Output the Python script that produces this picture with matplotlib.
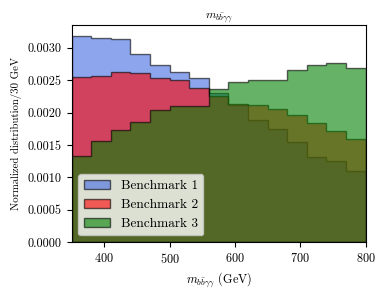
import numpy as np
import matplotlib
matplotlib.use("Agg")
import matplotlib.pyplot as plt
from matplotlib.ticker import FormatStrFormatter

plt.rcParams['font.family'] = 'serif'
plt.rcParams['font.serif'] = ['cmr10']
plt.rcParams['mathtext.fontset'] = 'cm'
plt.rcParams['axes.formatter.use_mathtext'] = True

# 30 GeV bins from 350 to 800 GeV
edges = np.arange(350, 801, 30)

bench1 = [0.00318, 0.00316, 0.00314, 0.00291, 0.00273, 0.00263, 0.00254, 0.00230,
          0.00212, 0.00189, 0.00174, 0.00154, 0.00132, 0.00125, 0.00109]
bench2 = [0.00255, 0.00257, 0.00263, 0.00261, 0.00253, 0.00251, 0.00238, 0.00225,
          0.00214, 0.00212, 0.00206, 0.00196, 0.00184, 0.00172, 0.00159]
bench3 = [0.00133, 0.00156, 0.00173, 0.00185, 0.00204, 0.00211, 0.00211, 0.00237,
          0.00248, 0.00250, 0.00250, 0.00266, 0.00273, 0.00277, 0.00269]

labels = ["Benchmark 1", "Benchmark 2", "Benchmark 3"]
colors = ["royalblue", "red", "green"]

fig = plt.figure(figsize=(3.9, 2.93), dpi=100)
ax = fig.add_axes([0.1836, 0.174, 0.7541, 0.7397])

centers = edges[:-1] + 15
for vals, lab, col in zip([bench1, bench2, bench3], labels, colors):
    ax.hist(centers, bins=edges, weights=vals, histtype='stepfilled',
            alpha=0.6, facecolor=col, edgecolor='k', linewidth=1, label=lab)

ax.set_xlim(350, 800)
ax.set_ylim(0, 0.00335)
ax.set_xticks([400, 500, 600, 700, 800])
ax.set_yticks(np.arange(0, 0.00301, 0.0005))
ax.yaxis.set_major_formatter(FormatStrFormatter('%.4f'))
ax.tick_params(labelsize=8.8)

ax.set_title(r"$m_{b\bar{b}\gamma\gamma}$", fontsize=8.5, pad=3)
ax.set_xlabel(r"$m_{b\bar{b}\gamma\gamma}$ (GeV)", fontsize=8.8, labelpad=3)
ax.set_ylabel("Normalized distribution/30 GeV", fontsize=7.8, labelpad=4)
ax.legend(loc='lower left', fontsize=9.6)

fig.savefig("out.png", dpi=100)
